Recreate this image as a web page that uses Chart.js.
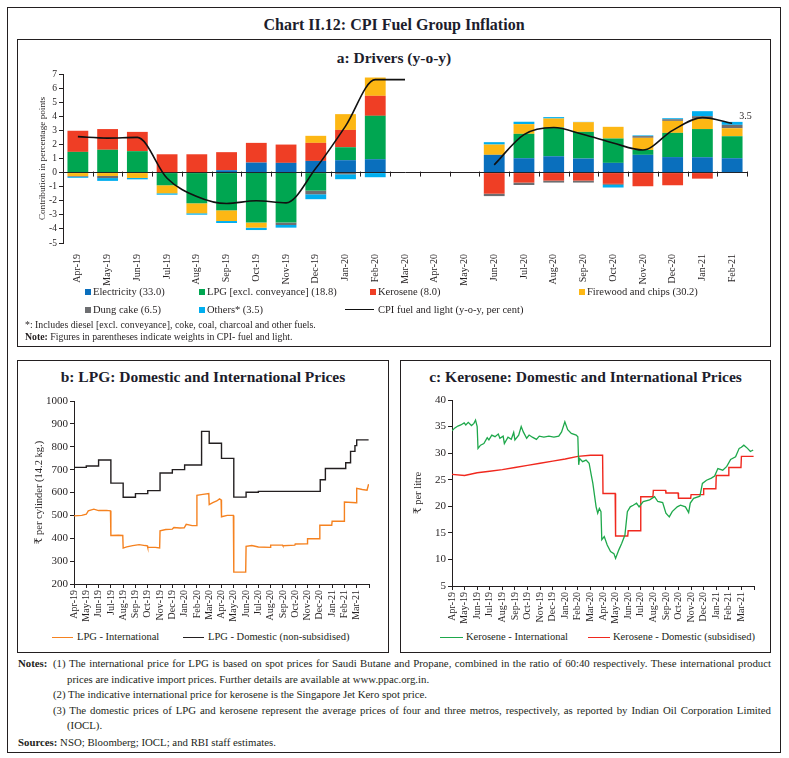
<!DOCTYPE html>
<html>
<head>
<meta charset="utf-8">
<script src="https://cdn.jsdelivr.net/npm/chart.js@4.4.0/dist/chart.umd.min.js"></script>
<style>
  body { margin: 0; background: #fff; font-family: "Liberation Serif", "DejaVu Serif", serif; color: #231f20; }
  #page { position: relative; width: 789px; height: 758px; overflow: hidden; }
  .box { position: absolute; border: 1.4px solid #231f20; box-sizing: border-box; }
  .abs { position: absolute; white-space: nowrap; }
  .ttl { position: absolute; text-align: center; font-weight: bold; color: #1d1d2c; }
  .sq { position: absolute; width: 6px; height: 6px; }
  .ln { position: absolute; height: 0; border-top: 1.4px solid; }
  .lg { position: absolute; font-size: 10.5px; line-height: 14px; white-space: nowrap; }
  .cv { position: absolute; }
  #notes { position: absolute; left: 18px; top: 656px; width: 753px; font-size: 10.8px; line-height: 15.5px; }
  #notes p { margin: 0; text-align: justify; }
</style>
</head>
<body>
<div id="page">
  <div class="box" style="left:7px;top:7px;width:774px;height:746px;"></div>
  <div class="ttl" style="left:7px;width:774px;top:15px;font-size:16px;line-height:19px;">Chart II.12: CPI Fuel Group Inflation</div>

  <!-- panel a -->
  <div class="box" style="left:17px;top:39px;width:754px;height:308px;"></div>
  <div class="ttl" style="left:17px;width:754px;top:48px;font-size:15.5px;line-height:19px;">a: Drivers (y-o-y)</div>
  <div class="cv" style="left:37px;top:64px;width:733px;height:222px;"><canvas id="chartA"></canvas></div>
  <div id="legendA"></div>
  <div class="abs" style="left:25px;top:318px;font-size:9.8px;line-height:13px;">*: Includes diesel [excl. conveyance], coke, coal, charcoal and other fuels.</div>
  <div class="abs" style="left:25px;top:330px;font-size:9.8px;line-height:13px;"><b>Note:</b> Figures in parentheses indicate weights in CPI- fuel and light.</div>

  <!-- panel b -->
  <div class="box" style="left:17px;top:360px;width:372px;height:293px;"></div>
  <div class="ttl" style="left:17px;width:372px;top:367px;font-size:15.5px;line-height:19px;">b: LPG: Domestic and International Prices</div>
  <div class="cv" style="left:33px;top:391px;width:350px;height:231px;"><canvas id="chartB"></canvas></div>
  <div class="ln" style="left:52px;top:637px;width:21px;border-color:#f58220;"></div>
  <div class="lg" style="left:77px;top:630px;">LPG - International</div>
  <div class="ln" style="left:183px;top:637px;width:21px;border-color:#231f20;"></div>
  <div class="lg" style="left:208px;top:630px;">LPG - Domestic (non-subsidised)</div>

  <!-- panel c -->
  <div class="box" style="left:400px;top:360px;width:371px;height:293px;"></div>
  <div class="ttl" style="left:400px;width:371px;top:367px;font-size:15.5px;line-height:19px;">c: Kerosene: Domestic and International Prices</div>
  <div class="cv" style="left:412px;top:390px;width:356px;height:234px;"><canvas id="chartC"></canvas></div>
  <div class="ln" style="left:440px;top:637px;width:23px;border-color:#1ea84b;"></div>
  <div class="lg" style="left:466px;top:630px;">Kerosene - International</div>
  <div class="ln" style="left:588px;top:637px;width:22px;border-color:#f0281e;"></div>
  <div class="lg" style="left:613px;top:630px;">Kerosene - Domestic (subsidised)</div>

  <div id="notes">
    <p style="padding-left:49px;text-indent:-49px;"><b style="display:inline-block;width:35px;text-indent:0;">Notes:</b>(1) The international price for LPG is based on spot prices for Saudi Butane and Propane, combined in the ratio of 60:40 respectively. These international product prices are indicative import prices. Further details are available at www.ppac.org.in.</p>
    <p style="padding-left:49px;text-indent:-14px;">(2) The indicative international price for kerosene is the Singapore Jet Kero spot price.</p>
    <p style="padding-left:49px;text-indent:-14px;">(3) The domestic prices of LPG and kerosene represent the average prices of four and three metros, respectively, as reported by Indian Oil Corporation Limited (IOCL).</p>
    <p style="margin-top:1px;"><b>Sources:</b> NSO; Bloomberg; IOCL; and RBI staff estimates.</p>
  </div>
</div>

<script>
// panel a: contributions (percentage points)
const monthsA = ['Apr-19','May-19','Jun-19','Jul-19','Aug-19','Sep-19','Oct-19','Nov-19','Dec-19','Jan-20','Feb-20','Mar-20',
                 'Apr-20','May-20','Jun-20','Jul-20','Aug-20','Sep-20','Oct-20','Nov-20','Dec-20','Jan-21','Feb-21'];
const electricity = [0, 0, 0, 0, 0, 0.17, 0.71, 0.69, 0.83, 0.88, 0.95, null, null, null, 1.26, 1.02, 1.16, 1.0, 0.69, 1.26, 1.1, 1.09, 1.02];
const lpg         = [1.47, 1.62, 1.52, -0.9, -2.18, -2.68, -3.55, -3.55, -1.28, 0.92, 3.08, null, null, null, 0, 1.73, 2.04, 1.89, 1.73, 0.35, 1.72, 2.0, 1.56];
const kerosene    = [1.5, 1.47, 1.37, 1.3, 1.3, 1.28, 1.4, 1.3, 1.28, 1.23, 1.42, null, null, null, -1.5, -0.71, -0.57, -0.57, -0.8, -0.97, -0.9, -0.43, 0];
const firewood    = [-0.24, -0.24, -0.38, -0.57, -0.71, -0.76, -0.36, 0, 0.5, 1.12, 1.3, null, null, null, 0.73, 0.69, 0.64, 0.69, 0.83, 0.86, 0.85, 0.73, 0.57];
const dungCake    = [-0.05, -0.15, 0, 0, 0, 0, 0, -0.17, -0.26, -0.12, 0, null, null, null, -0.17, -0.17, -0.14, -0.14, -0.07, 0.12, 0.12, 0.19, 0.24];
const others      = [-0.08, -0.2, -0.1, -0.1, -0.1, -0.14, -0.17, -0.19, -0.35, -0.35, -0.33, null, null, null, 0.17, 0.17, 0.1, 0.02, -0.19, 0.05, 0.07, 0.35, 0.21];
const cpiFuel     = [2.55, 2.45, 2.5, -0.4, -1.7, -2.2, -2.0, -2.15, 0.3, 3.3, 6.6, 6.6, null, null, 0.55, 2.7, 3.2, 2.7, 2.1, 1.6, 3.0, 3.9, 3.5];

const seriesNames = ['Electricity (33.0)', 'LPG [excl. conveyance] (18.8)', 'Kerosene (8.0)', 'Firewood and chips (30.2)', 'Dung cake (6.5)', 'Others* (3.5)'];
const seriesColors = ['#0a6fbd', '#00a651', '#ef3e25', '#fdb714', '#6d6e71', '#00aeef'];
const lineName = 'CPI fuel and light (y-o-y, per cent)';

// panels b and c: month tick labels
const monthsBC = ['Apr-19','May-19','Jun-19','Jul-19','Aug-19','Sep-19','Oct-19','Nov-19','Dec-19','Jan-20','Feb-20','Mar-20',
                  'Apr-20','May-20','Jun-20','Jul-20','Aug-20','Sep-20','Oct-20','Nov-20','Dec-20','Jan-21','Feb-21','Mar-21'];

// LPG (Rs per 14.2 kg cylinder)
const lpgIntlDates = ['2019-04-01','2019-04-20','2019-05-01','2019-05-06','2019-05-20','2019-06-01','2019-06-20','2019-06-30',
  '2019-07-01','2019-07-20','2019-07-31','2019-08-01','2019-08-10','2019-08-25','2019-09-10','2019-09-25','2019-09-30',
  '2019-10-01','2019-10-20','2019-10-31','2019-11-01','2019-11-15','2019-12-01','2019-12-05','2019-12-20','2019-12-31',
  '2020-01-05','2020-01-20','2020-01-31','2020-02-01','2020-02-15','2020-02-29','2020-03-01','2020-03-10','2020-03-20',
  '2020-03-27','2020-03-31','2020-04-01','2020-04-15','2020-04-30','2020-05-01','2020-05-31','2020-06-01','2020-06-15',
  '2020-07-01','2020-07-31','2020-08-01','2020-08-31','2020-09-01','2020-09-30','2020-10-01','2020-10-31','2020-11-01',
  '2020-11-30','2020-12-01','2020-12-31','2021-01-01','2021-01-31','2021-02-01','2021-02-28','2021-03-01','2021-03-15',
  '2021-03-27','2021-03-31'];
const lpgIntlPrices = [498,500,505,520,527,521,522,520, 412,413,412,357,362,368,372,368,367, 360,360,358,432,438,440,447,445,446,
  461,455,455,588,592,595,547,556,563, 572,568,494,500,500,252,252,365,368, 362,360,370,370,367,370,375,376,398,
  398,457,457,474,474,558,555,618,613, 610,636];
const lpgDomDates = ['2019-04-01','2019-05-01','2019-06-01','2019-07-01','2019-08-01','2019-09-01','2019-10-01','2019-11-01',
  '2019-12-01','2020-01-01','2020-02-12','2020-03-01','2020-04-01','2020-05-01','2020-06-01','2020-07-01','2020-12-02',
  '2020-12-15','2021-02-04','2021-02-15','2021-02-25','2021-03-01','2021-03-31'];
const lpgDomPrices = [710,716,742,641,579,595,608,685,700,720,867,815,749,580,601,605,656,705,730,780,805,830,830];

// Kerosene (Rs per litre)
const keroIntlDates = ['2019-04-01','2019-04-07','2019-04-15','2019-04-22','2019-04-30','2019-05-04','2019-05-10','2019-05-18',
  '2019-05-24','2019-05-28','2019-06-01','2019-06-03','2019-06-09','2019-06-17','2019-06-25','2019-06-29','2019-07-06',
  '2019-07-14','2019-07-22','2019-07-26','2019-08-03','2019-08-06','2019-08-15','2019-08-23','2019-08-29','2019-09-01',
  '2019-09-10','2019-09-16','2019-09-21','2019-09-29','2019-10-05','2019-10-13','2019-10-23','2019-10-30','2019-11-10',
  '2019-11-22','2019-12-04','2019-12-16','2019-12-23','2019-12-31','2020-01-07','2020-01-16','2020-01-28','2020-02-01',
  '2020-02-03','2020-02-05','2020-02-12','2020-02-20','2020-02-27','2020-03-03','2020-03-07','2020-03-15','2020-03-19',
  '2020-03-23','2020-03-27','2020-03-29','2020-04-04','2020-04-11','2020-04-19','2020-04-27','2020-05-01','2020-05-09',
  '2020-05-16','2020-05-24','2020-05-30','2020-06-06','2020-06-13','2020-06-21','2020-06-27','2020-07-07','2020-07-23',
  '2020-08-04','2020-08-12','2020-08-24','2020-09-01','2020-09-09','2020-09-16','2020-09-28','2020-10-06','2020-10-18',
  '2020-10-26','2020-10-30','2020-11-07','2020-11-22','2020-11-28','2020-12-08','2020-12-20','2020-12-28','2021-01-05',
  '2021-01-17','2021-01-27','2021-02-05','2021-02-16','2021-02-24','2021-03-01','2021-03-07','2021-03-16','2021-03-23',
  '2021-03-30'];
const keroIntlPrices = [34.2,34.7,35.1,35.3,35.7,35.3,35.8,35.2, 35.6,36.2,35.0,30.9,31.5,31.8,32.9,32.5,33.4,
  33.1,33.6,32.8,33.2,31.8,33.0,32.6,33.9,32.5, 33.4,35.0,34.0,32.8,33.4,33.0,32.6,33.2,33.0,
  33.2,33.0,33.2,34.0,35.9,34.4,33.7,33.4,33.1, 27.8,29.0,28.4,28.7,28.1,25.9,24.3,19.9,18.7,
  19.6,19.0,13.7,14.3,12.7,11.5,11.1,10.2,11.8, 13.0,14.6,19.0,19.9,20.2,20.6,19.9,20.9,21.2,
  21.8,20.9,20.7,18.7,18.0,19.0,19.9,20.2,19.9, 18.8,20.6,21.5,21.9,24.3,24.9,25.3,25.7,27.1,
  26.8,27.5,28.8,29.3,30.9,31.1,31.5,30.9,30.3, 30.6];
const keroDomDates = ['2019-04-01','2019-05-01','2019-06-01','2019-07-01','2019-08-01','2019-09-01','2019-10-01','2019-11-01',
  '2019-12-01','2020-01-01','2020-02-01','2020-03-01','2020-03-31','2020-04-01','2020-04-30','2020-05-01','2020-05-31',
  '2020-06-01','2020-06-30','2020-07-01','2020-07-31','2020-08-01','2020-08-31','2020-09-01','2020-09-30','2020-10-01',
  '2020-10-31','2020-11-01','2020-11-30','2020-12-01','2020-12-31','2021-01-01','2021-01-31','2021-02-01','2021-02-28',
  '2021-03-01','2021-03-31'];
const keroDomPrices = [26.0,25.8,26.3,26.6,26.9,27.3,27.7,28.1, 28.5,28.9,29.4,29.6,29.6,22.4,22.4,14.4,14.4,
  15.4,15.4,21.8,21.8,23.0,23.0,22.5,22.5,21.5, 21.5,22.2,22.2,23.3,23.3,25.8,25.8,27.3,27.3, 29.4,29.4];

const FONT = "'Liberation Serif', 'DejaVu Serif', serif";
const INK = '#231f20';
Chart.defaults.font.family = FONT;
Chart.defaults.color = INK;
Chart.defaults.animation = false;

// month position on the b/c x axis: 0 = start of Apr-19
function monthIndex(s) {
  const [y, m, d] = s.split('-').map(Number);
  const days = new Date(y, m, 0).getDate();
  return (y - 2019) * 12 + (m - 4) + (d - 1) / days;
}
function toPoints(dates, values) {
  return dates.map((d, i) => ({ x: monthIndex(d), y: values[i] }));
}

// legend for panel a (html, laid out like the original two rows)
const legendSpots = [[85, 292], [199, 292], [370, 292], [579, 292], [85, 310], [199, 310]];
let lgHtml = '';
seriesNames.forEach((name, i) => {
  const [x, y] = legendSpots[i];
  lgHtml += `<div class="sq" style="left:${x}px;top:${y - 3}px;background:${seriesColors[i]}"></div>`;
  lgHtml += `<div class="lg" style="left:${x + 8}px;top:${y - 7}px;">${name}</div>`;
});
lgHtml += `<div class="ln" style="left:345px;top:309px;width:29px;border-color:#111"></div>`;
lgHtml += `<div class="lg" style="left:378px;top:303px;">${lineName}</div>`;
document.getElementById('legendA').innerHTML = lgHtml;

// small tick marks on the zero line at category boundaries
const zeroTicks = {
  id: 'zeroTicks',
  afterDatasetsDraw(chart) {
    const xs = chart.scales.x, ys = chart.scales.y, ctx = chart.ctx;
    const y0 = ys.getPixelForValue(0);
    ctx.save();
    ctx.strokeStyle = INK;
    ctx.lineWidth = 1;
    ctx.beginPath();
    for (let i = 0; i <= monthsA.length; i++) {
      const px = Math.round(xs.getPixelForValue(i - 0.5)) + 0.5;
      ctx.moveTo(px, y0 - 1);
      ctx.lineTo(px, y0 + 4);
    }
    ctx.stroke();
    ctx.restore();
  }
};

const lastLabel = {
  id: 'lastLabel',
  afterDatasetsDraw(chart) {
    const meta = chart.getDatasetMeta(0);
    const i = cpiFuel.length - 1;
    const pt = meta.data[i];
    const ctx = chart.ctx;
    ctx.save();
    ctx.font = '10px ' + FONT;
    ctx.fillStyle = INK;
    ctx.textBaseline = 'middle';
    ctx.fillText(cpiFuel[i].toFixed(1), pt.x + 7, pt.y - 7);
    ctx.restore();
  }
};

const barSeries = [electricity, lpg, kerosene, firewood, dungCake, others];

new Chart(document.getElementById('chartA'), {
  type: 'bar',
  data: {
    labels: monthsA,
    datasets: [
      {
        type: 'line', label: lineName, data: cpiFuel, borderColor: '#111', borderWidth: 1.6,
        pointRadius: 0, tension: 0.4, cubicInterpolationMode: 'monotone', spanGaps: false, order: 0
      },
      ...barSeries.map((vals, i) => ({
        label: seriesNames[i], data: vals, backgroundColor: seriesColors[i], stack: 'drivers',
        barPercentage: 0.7, categoryPercentage: 1.0, order: 1
      }))
    ]
  },
  options: {
    responsive: true,
    maintainAspectRatio: false,
    layout: { padding: { top: 10, right: 23, left: 0, bottom: 0 } },
    plugins: { legend: { display: false }, tooltip: { enabled: false } },
    scales: {
      x: {
        stacked: true,
        grid: { display: false },
        border: { display: false },
        ticks: { autoSkip: false, maxRotation: 90, minRotation: 90, padding: 3, font: { size: 10 } },
        afterFit: (s) => { s.height = 43; }
      },
      y: {
        stacked: true, min: -5, max: 7,
        ticks: { stepSize: 1, autoSkip: false, padding: 2, font: { size: 9.5 } },
        grid: {
          color: (c) => (c.tick && c.tick.value === 0 ? INK : 'rgba(0,0,0,0)'),
          tickColor: INK, tickLength: 4, lineWidth: 1
        },
        border: { display: true, color: INK },
        title: { display: true, text: 'Contribution in percentage points', font: { size: 9.2 }, padding: { top: 0, bottom: 2 } },
        afterFit: (s) => { s.width = 26; }
      }
    }
  },
  plugins: [zeroTicks, lastLabel]
});

function priceOptions(yMin, yMax, yStep, yTitle, yWidth, rightPad) {
  return {
    responsive: true,
    maintainAspectRatio: false,
    layout: { padding: { top: 10, right: rightPad, left: 0, bottom: 0 } },
    plugins: { legend: { display: false }, tooltip: { enabled: false } },
    scales: {
      x: {
        type: 'linear', min: 0, max: 24,
        ticks: {
          stepSize: 1, maxTicksLimit: 30, autoSkip: false, maxRotation: 90, minRotation: 90, padding: 2,
          font: { size: 10 }, callback: (v) => monthsBC[Math.round(v)] || ''
        },
        grid: { drawOnChartArea: false, color: INK, tickLength: 4 },
        border: { color: INK },
        afterFit: (s) => { s.height = 38; }
      },
      y: {
        min: yMin, max: yMax,
        ticks: { stepSize: yStep, autoSkip: false, padding: 2, font: { size: 11 }, callback: (v) => String(v) },
        grid: { drawOnChartArea: false, color: INK, tickLength: 4 },
        border: { color: INK },
        title: { display: true, text: yTitle, font: { size: 10.5 }, padding: { top: 0, bottom: 2 } },
        afterFit: (s) => { s.width = yWidth; }
      }
    }
  };
}

new Chart(document.getElementById('chartB'), {
  type: 'line',
  data: {
    datasets: [
      { label: 'LPG - International', data: toPoints(lpgIntlDates, lpgIntlPrices), borderColor: '#f58220', borderWidth: 1.4, pointRadius: 0 },
      { label: 'LPG - Domestic (non-subsidised)', data: toPoints(lpgDomDates, lpgDomPrices), borderColor: INK, borderWidth: 1.4, pointRadius: 0, stepped: true }
    ]
  },
  options: priceOptions(200, 1000, 100, '₹ per cylinder (14.2 kg.)', 41, 8)
});

new Chart(document.getElementById('chartC'), {
  type: 'line',
  data: {
    datasets: [
      { label: 'Kerosene - International', data: toPoints(keroIntlDates, keroIntlPrices), borderColor: '#1ea84b', borderWidth: 1.3, pointRadius: 0 },
      { label: 'Kerosene - Domestic (subsidised)', data: toPoints(keroDomDates, keroDomPrices), borderColor: '#f0281e', borderWidth: 1.4, pointRadius: 0 }
    ]
  },
  options: priceOptions(5, 40, 5, '₹ per litre', 40, 7)
});
</script>
</body>
</html>
